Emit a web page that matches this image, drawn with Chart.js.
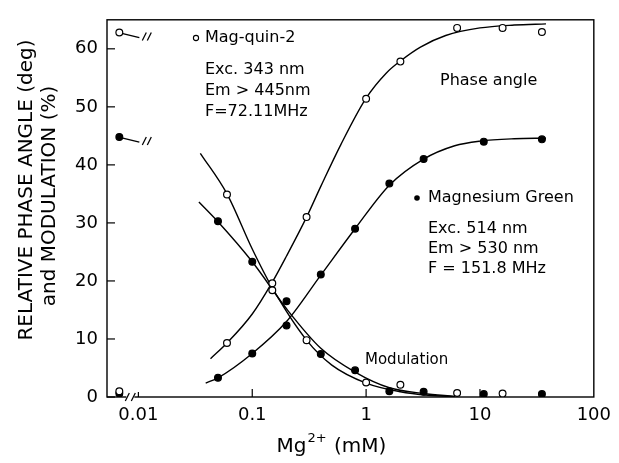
<!DOCTYPE html>
<html><head><meta charset="utf-8">
<script src="https://cdn.jsdelivr.net/npm/chart.js@4/dist/chart.umd.min.js"></script>
<style>html,body{margin:0;padding:0;background:#fff}#wrap{width:619px;height:463px}</style>
</head><body><div id="wrap"><canvas id="c" width="619" height="463"></canvas></div>
<script>
// ---- axis ticks ----
const xTicks = [0.01, 0.1, 1, 10, 100];
const xTickLabels = ['0.01', '0.1', '1', '10', '100'];
const yTicks = [0, 10, 20, 30, 40, 50, 60];

// ---- Mag-quin-2 (open circles) ----
const quinPhaseX = [0.06, 0.15, 0.3, 1, 2, 6.3, 15.8, 35];
const quinPhaseY = [9.3, 19.6, 31.0, 51.4, 57.8, 63.6, 63.6, 62.9];
const quinModX = [0.06, 0.15, 0.3, 1, 2, 6.3, 15.8];
const quinModY = [34.9, 18.4, 9.8, 2.5, 2.1, 0.7, 0.6];

// ---- Magnesium Green (filled circles) ----
const mgPhaseX = [0.05, 0.1, 0.2, 0.4, 0.8, 1.6, 3.2, 10.8, 35];
const mgPhaseY = [3.3, 7.5, 12.3, 21.1, 29.0, 36.8, 41.0, 44.0, 44.4];
const mgModX = [0.05, 0.1, 0.2, 0.4, 0.8, 1.6, 3.2, 10.8, 35];
const mgModY = [30.3, 23.3, 16.5, 7.4, 4.6, 1.0, 0.9, 0.5, 0.5];

// ---- zero-Mg reference values (shown left of the axis break) ----
const zeroX = 0.0068;
const quinZeroY = [62.8, 1.0];
const mgZeroY = [44.8, 0.6];

// ---- fitted curves ----
const quinPhaseCurveX = [0.043, 0.06, 0.1, 0.15, 0.2, 0.3, 0.4, 0.6, 1, 1.5, 2, 3, 5, 10, 20, 38];
const quinPhaseCurveY = [6.6, 9.3, 14.3, 19.8, 24.3, 31.0, 36.3, 43.5, 51.5, 55.8, 57.9, 60.3, 62.3, 63.6, 64.1, 64.3];
const mgPhaseCurveX = [0.039, 0.05, 0.1, 0.2, 0.4, 0.8, 1.6, 3.2, 6, 10, 20, 38];
const mgPhaseCurveY = [2.4, 3.3, 7.5, 13.0, 21.0, 29.0, 36.5, 41.0, 43.3, 44.1, 44.5, 44.6];
const quinModCurveX = [0.035, 0.06, 0.1, 0.15, 0.3, 0.5, 1, 2, 3.5, 6];
const quinModCurveY = [42.0, 35.0, 25.5, 18.8, 9.8, 5.5, 2.4, 0.9, 0.3, 0.05];
const mgModCurveX = [0.034, 0.05, 0.1, 0.2, 0.4, 0.8, 1.6, 3.2, 6];
const mgModCurveY = [33.6, 30.2, 23.3, 15.2, 8.4, 4.3, 1.6, 0.6, 0.1];

const FONT = '"DejaVu Sans", sans-serif';
Chart.defaults.font.family = FONT;
Chart.defaults.color = '#000';

function pts(xs, ys) { return xs.map((x, i) => ({ x: x, y: ys[i] })); }
function pointSet(label, xs, ys, filled) {
  return { label, data: pts(xs, ys), showLine: false, pointRadius: 3.4, pointHoverRadius: 3.4,
    pointBackgroundColor: filled ? '#000' : '#fff', pointBorderColor: '#000', pointBorderWidth: 1.2, order: 0 };
}
function curveSet(label, xs, ys) {
  return { label, data: pts(xs, ys), showLine: true, pointRadius: 0, borderColor: '#000', borderWidth: 1.4,
    cubicInterpolationMode: 'monotone', fill: false, order: 1 };
}

const deco = {
  id: 'deco',
  beforeDraw(chart) {
    const c = chart.ctx; c.save(); c.fillStyle = '#fff'; c.fillRect(0, 0, chart.width, chart.height); c.restore();
  },
  beforeDatasetsDraw(chart) {
    const c = chart.ctx, a = chart.chartArea, xs = chart.scales.x, ys = chart.scales.y;
    c.save();
    c.strokeStyle = '#000'; c.lineWidth = 1.4;
    c.strokeRect(a.left, a.top, a.right - a.left, a.bottom - a.top);
    // inside tick marks
    c.lineWidth = 1.2;
    yTicks.forEach(v => { const y = ys.getPixelForValue(v); c.beginPath(); c.moveTo(a.left, y); c.lineTo(a.left + 8, y); c.stroke(); });
    xTicks.forEach(v => { const x = xs.getPixelForValue(v); if (x > a.right - 2) return; c.beginPath(); c.moveTo(x, a.bottom); c.lineTo(x, a.bottom - (v === 0.01 ? 5 : 8)); c.stroke(); });
    // axis break on the x axis
    const bx = xs.getPixelForValue(zeroX) + 10;
    c.fillStyle = '#fff'; c.fillRect(bx - 3, a.bottom - 2, 8, 4);
    c.lineWidth = 1.3;
    [bx - 2, bx + 4].forEach(sx => { c.beginPath(); c.moveTo(sx - 2, a.bottom + 4); c.lineTo(sx + 2, a.bottom - 4); c.stroke(); });
    c.restore();
  },
  afterDraw(chart) {
    const c = chart.ctx, a = chart.chartArea, xs = chart.scales.x, ys = chart.scales.y;
    c.save();
    c.strokeStyle = '#000'; c.fillStyle = '#000'; c.lineWidth = 1.3;
    // break markers for the top zero-Mg points
    [quinZeroY[0], mgZeroY[0]].forEach(v => {
      const px = xs.getPixelForValue(zeroX), py = ys.getPixelForValue(v);
      c.beginPath(); c.moveTo(px + 3.5, py + 1); c.lineTo(px + 20, py + 5); c.stroke();
      [px + 25, px + 30].forEach(sx => { c.beginPath(); c.moveTo(sx - 2, py + 8); c.lineTo(sx + 2, py); c.stroke(); });
    });
    // annotation texts
    c.textBaseline = 'middle'; c.textAlign = 'left';
    c.font = '16px ' + FONT;
    c.beginPath(); c.arc(196, 38, 2.6, 0, Math.PI * 2); c.fillStyle = '#fff'; c.fill(); c.lineWidth = 1.1; c.stroke();
    c.fillStyle = '#000';
    c.fillText('Mag-quin-2', 205, 38);
    c.fillText('Exc. 343 nm', 205, 70);
    c.fillText('Em > 445nm', 205, 91);
    c.fillText('F=72.11MHz', 205, 112);
    c.fillText('Phase angle', 440, 81);
    c.beginPath(); c.arc(417, 198, 2.8, 0, Math.PI * 2); c.fill();
    c.fillText('Magnesium Green', 428, 198);
    c.fillText('Exc. 514 nm', 428, 229);
    c.fillText('Em > 530 nm', 428, 249);
    c.fillText('F = 151.8 MHz', 428, 269);
    c.font = '15px ' + FONT;
    c.fillText('Modulation', 365, 360);
    // y-axis title
    c.font = '20px ' + FONT; c.textAlign = 'center';
    c.save(); c.translate(27, 190); c.rotate(-Math.PI / 2); c.fillText('RELATIVE PHASE ANGLE (deg)', 0, 0); c.restore();
    c.save(); c.translate(50, 196); c.rotate(-Math.PI / 2); c.fillText('and MODULATION (%)', 0, 0); c.restore();
    // x-axis title with superscript
    const cx = (a.left + a.right) / 2 - 20, by = 452;
    c.textAlign = 'left'; c.textBaseline = 'alphabetic';
    const f1 = '20px ' + FONT, f2 = '13px ' + FONT;
    c.font = f1; const w1 = c.measureText('Mg').width, w3 = c.measureText(' (mM)').width;
    c.font = f2; const w2 = c.measureText('2+').width;
    let x0 = cx - (w1 + w2 + w3) / 2;
    c.font = f1; c.fillText('Mg', x0, by);
    c.font = f2; c.fillText('2+', x0 + w1 + 1, by - 10);
    c.font = f1; c.fillText(' (mM)', x0 + w1 + w2 + 2, by);
    c.restore();
  }
};

new Chart(document.getElementById('c'), {
  type: 'scatter',
  data: { datasets: [
    pointSet('Mag-quin-2 phase', quinPhaseX, quinPhaseY, false),
    pointSet('Mag-quin-2 modulation', quinModX, quinModY, false),
    pointSet('Magnesium Green phase', mgPhaseX, mgPhaseY, true),
    pointSet('Magnesium Green modulation', mgModX, mgModY, true),
    pointSet('Mag-quin-2 zero Mg', [zeroX, zeroX], quinZeroY, false),
    pointSet('Magnesium Green zero Mg', [zeroX, zeroX], mgZeroY, true),
    curveSet('fit 1', quinPhaseCurveX, quinPhaseCurveY),
    curveSet('fit 2', mgPhaseCurveX, mgPhaseCurveY),
    curveSet('fit 3', quinModCurveX, quinModCurveY),
    curveSet('fit 4', mgModCurveX, mgModCurveY)
  ] },
  options: {
    responsive: false, animation: false, devicePixelRatio: 1,
    layout: { padding: { top: 13, right: 21, left: 0, bottom: 0 } },
    plugins: { legend: { display: false }, tooltip: { enabled: false }, title: { display: false } },
    scales: {
      x: {
        type: 'logarithmic', min: 0.0053, max: 100,
        afterBuildTicks: s => { s.ticks = xTicks.map(v => ({ value: v })); },
        afterFit: s => { s.height = 66; },
        grid: { display: false, drawTicks: false }, border: { display: false },
        ticks: { autoSkip: false, maxRotation: 0, padding: 8, font: { size: 18, family: FONT }, color: '#000',
          callback: (v) => { const i = xTicks.indexOf(v); return i >= 0 ? xTickLabels[i] : ''; } }
      },
      y: {
        min: 0, max: 65,
        afterBuildTicks: s => { s.ticks = yTicks.map(v => ({ value: v })); },
        afterFit: s => { s.width = 107; },
        grid: { display: false, drawTicks: false }, border: { display: false },
        ticks: { autoSkip: false, padding: 9, font: { size: 18, family: FONT }, color: '#000' }
      }
    }
  },
  plugins: [deco]
});
</script></body></html>
